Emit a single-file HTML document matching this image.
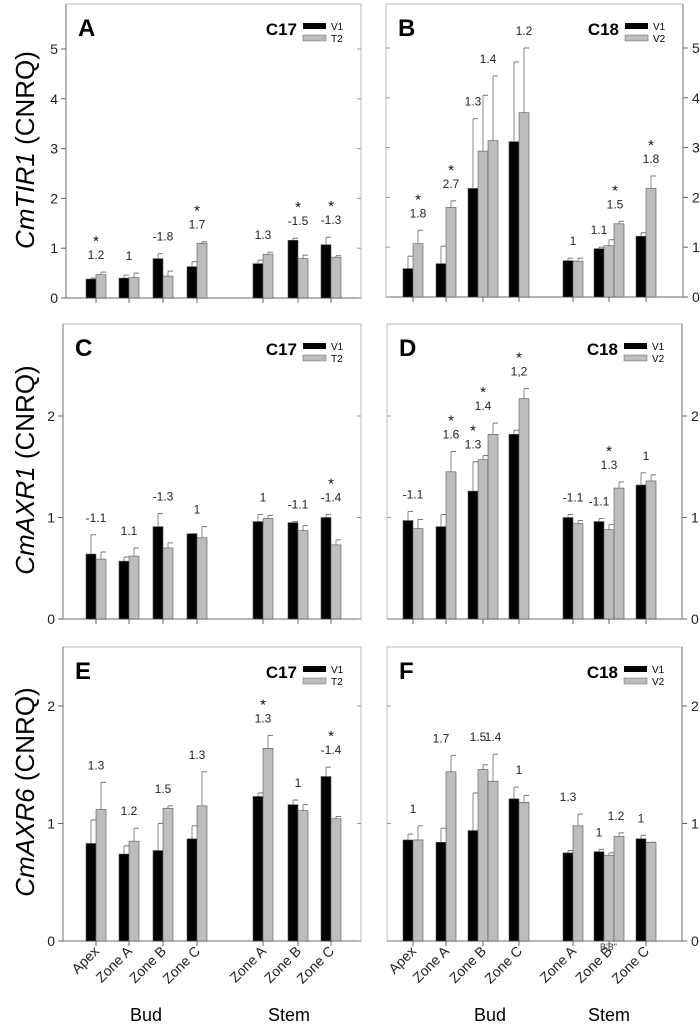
<!DOCTYPE html>
<html><head><meta charset="utf-8"><style>
body{margin:0;background:#fff}
svg{display:block;font-family:"Liberation Sans",sans-serif}
</style></head><body>
<svg id="chart" width="700" height="1027" viewBox="0 0 700 1027" xmlns="http://www.w3.org/2000/svg"></svg>
<script>
const categories=["Apex","Zone A","Zone B","Zone C","Zone A","Zone B","Zone C"];
const tickMax={A:5,B:5,C:2,D:2,E:2,F:2};
// Panel A (C17, CmTIR1)
const aV1=[0.38,0.40,0.79,0.63,0.69,1.16,1.07];
const aV1e=[0.02,0.06,0.10,0.10,0.07,0.04,0.15];
const aT2=[0.47,0.41,0.44,1.10,0.88,0.79,0.82];
const aT2e=[0.05,0.09,0.10,0.03,0.04,0.07,0.03];
const aLab=["1.2","1","-1.8","1.7","1.3","-1.5","-1.3"];
const aStar=[1,0,0,1,0,1,1];
// Panel B (C18, CmTIR1) third bar = extra V2 bar
const bV1=[0.57,0.67,2.18,3.12,0.73,0.97,1.22];
const bV1e=[0.25,0.35,1.40,1.60,0.05,0.03,0.07];
const bV2=[1.07,1.80,2.93,3.70,0.72,1.03,2.18];
const bV2e=[0.27,0.13,1.12,1.30,0.06,0.12,0.25];
const bV3=[null,null,3.14,null,null,1.47,null];
const bV3e=[0,0,1.30,0,0,0.05,0];
// [text, slot, star, anchoredToOwnBar]
const bLab=[["1.8",1,1,0],["2.7",1,1,0],["1.3",0,0,1],["1.4",1.5,0,1],["1.2",1,0,0],["1",0.5,0,0],["1.1",0,0,1],["1.5",1.6,1,1],["1.8",1,1,0]];
const bLabGrp=[0,1,2,2,3,4,5,5,6];
// Panel C
const cV1=[0.64,0.57,0.91,0.84,0.96,0.95,1.00];
const cV1e=[0.19,0.04,0.13,0.00,0.07,0.01,0.03];
const cT2=[0.59,0.62,0.70,0.80,0.99,0.87,0.73];
const cT2e=[0.07,0.08,0.05,0.11,0.03,0.05,0.05];
const cLab=["-1.1","1.1","-1.3","1","1","-1.1","-1.4"];
const cStar=[0,0,0,0,0,0,1];
// Panel D
const dV1=[0.97,0.91,1.26,1.82,1.00,0.96,1.32];
const dV1e=[0.09,0.12,0.29,0.04,0.03,0.03,0.12];
const dV2=[0.89,1.45,1.57,2.17,0.94,0.88,1.36];
const dV2e=[0.09,0.20,0.04,0.10,0.03,0.05,0.06];
const dV3=[null,null,1.82,null,null,1.29,null];
const dV3e=[0,0,0.11,0,0,0.06,0];
const dLab=[["-1.1",0.5,0,0],["1.6",1,1,0],["1.3",0,1,1],["1.4",1,1,0],["1,2",0.5,1,0],["-1.1",0.5,0,0],["-1.1",0,0,1],["1.3",1,1,0],["1",0.5,0,0]];
const dLabGrp=[0,1,2,2,3,4,5,5,6];
// Panel E
const eV1=[0.83,0.74,0.77,0.87,1.23,1.16,1.40];
const eV1e=[0.20,0.07,0.23,0.11,0.03,0.04,0.08];
const eT2=[1.12,0.85,1.13,1.15,1.64,1.11,1.04];
const eT2e=[0.23,0.11,0.02,0.29,0.11,0.05,0.02];
const eLab=["1.3","1.2","1.5","1.3","1.3","1","-1.4"];
const eStar=[0,0,0,0,1,0,1];
// Panel F
const fV1=[0.86,0.84,0.94,1.21,0.75,0.76,0.87];
const fV1e=[0.05,0.12,0.32,0.10,0.02,0.02,0.03];
const fV2=[0.86,1.44,1.46,1.18,0.98,0.73,0.84];
const fV2e=[0.12,0.14,0.04,0.06,0.10,0.02,0.00];
const fV3=[null,null,1.36,null,null,0.89,null];
const fV3e=[0,0,0.23,0,0,0.03,0];
const fLab=[["1",0.5,0,0],["1.7",0,0,0],["1.5",0.5,0,0],["1.4",2,0,0],["1",0.5,0,0],["1.3",0,0,0],["1",0,0,1],["1.2",1.7,0,1],["1",0,0,1]];
const fLabGrp=[0,1,2,2,3,4,5,5,6];

const NS="http://www.w3.org/2000/svg";
const svg=document.getElementById("chart");
function mk(tag,attrs,parent,text){const e=document.createElementNS(NS,tag);for(const k in attrs)e.setAttribute(k,attrs[k]);if(text!==undefined)e.textContent=text;(parent||svg).appendChild(e);return e;}
const leftTicks=[96,129,163,197,263,298,331];
const rightTicks=[413,446,483,519,573,609,646];
const BW=10;
function panel(p){
  const g=mk("g",{});
  
  
  const y=v=>p.base-v*p.unit;
  const fr=mk("rect",{x:p.x0,y:p.top,width:p.x1-p.x0,height:p.base-p.top,fill:"none",stroke:"#bbb","stroke-width":1},g);
  
  
  mk("line",{x1:p.x0,y1:p.base,x2:p.x1,y2:p.base,stroke:"#888","stroke-width":1.2},g);
  const axX=p.right?p.x1:p.x0;
  mk("line",{x1:axX,y1:p.top,x2:axX,y2:p.base,stroke:"#888","stroke-width":1.2},g);
  for(let t=0;t<=tickMax[p.id];t++){
    const ty=y(t);
    if(p.right){
      mk("line",{x1:p.x1,y1:ty,x2:p.x1+5,y2:ty,stroke:"#666"},g);
      mk("line",{x1:p.x0,y1:ty,x2:p.x0+4,y2:ty,stroke:"#999"},g);
      const tl=mk("text",{x:p.x1+9,y:ty+5,"font-size":14,fill:"#222"},g,String(t));
      
      
    }else{
      mk("line",{x1:p.x0-5,y1:ty,x2:p.x0,y2:ty,stroke:"#666"},g);
      mk("line",{x1:p.x1-4,y1:ty,x2:p.x1,y2:ty,stroke:"#999"},g);
      const tl=mk("text",{x:p.x0-8,y:ty+5,"font-size":14,fill:"#222","text-anchor":"end"},g,String(t));
      
      
    }
  }
  const ticks=p.right?rightTicks:leftTicks;
  const groups=[];
  for(let i=0;i<7;i++){
    const cx=ticks[i];
    mk("line",{x1:cx,y1:p.base,x2:cx,y2:p.base+5,stroke:"#666"},g);
    const vals=[[p.v1[i],p.v1e[i],"#000"],[p.v2[i],p.v2e[i],"#bdbdbd"]];
    if(p.v3&&p.v3[i]!==null)vals.push([p.v3[i],p.v3e[i],"#bdbdbd"]);
    const n=vals.length;
    const start=n===2?cx-BW:cx-1.5*BW;
    const tops=[];
    vals.forEach((b,k)=>{
      const bx=start+k*BW;
      const ey=y(b[0]+b[1]);
      mk("line",{x1:bx+BW/2,y1:y(b[0]),x2:bx+BW/2,y2:ey,stroke:"#888"},g);
      mk("line",{x1:bx+BW/2,y1:ey,x2:bx+BW/2+5,y2:ey,stroke:"#777"},g);
      const r=mk("rect",{x:bx,y:y(b[0]),width:BW,height:b[0]*p.unit,fill:b[2],stroke:"#555","stroke-width":0.6},g);
      
      
      tops.push(ey);
    });
    groups.push({tops,start});
  }
  function label(grp,slot,txt,star,own){
    const t=groups[grp];
    let lo=0,hi=t.tops.length-1;
    if(own){lo=Math.max(0,Math.floor(slot));hi=Math.min(t.tops.length-1,Math.ceil(slot));}
    let top=1e9;for(let k=lo;k<=hi;k++)top=Math.min(top,t.tops[k]);
    const lx=t.start+BW/2+slot*BW;
    const ly=top-13;
    const l=mk("text",{x:lx,y:ly,"font-size":12,"text-anchor":"middle",fill:"#222"},g,txt);
    
    
    if(star){
      const s=mk("text",{x:lx,y:ly-13,"font-size":15,"text-anchor":"middle",fill:"#111"},g,"*");
      
      
    }
  }
  if(p.lab){for(let i=0;i<7;i++)label(i,0.5,p.lab[i],p.star[i],0);}
  else{p.labs.forEach((L,j)=>label(p.labGrp[j],L[1],L[0],L[2],L[3]));}
  const pl=mk("text",{x:p.x0+12,y:p.top+32,"font-size":24,"font-weight":"bold"},g,p.id);
  
  
  const lx=p.x1-58;
  const ct=mk("text",{x:lx-6,y:p.top+31,"font-size":17,"font-weight":"bold","text-anchor":"end"},g,p.cult);
  
  
  mk("rect",{x:lx,y:p.top+19,width:23,height:6,fill:"#000"},g);
  mk("rect",{x:lx,y:p.top+31,width:23,height:6,fill:"#bdbdbd",stroke:"#666","stroke-width":0.5},g);
  const l1=mk("text",{x:lx+28,y:p.top+26,"font-size":10},g,"V1");
  
  
  const l2=mk("text",{x:lx+28,y:p.top+38,"font-size":10},g,p.s2);
  
  
}
panel({id:"A",x0:66,x1:361,top:4,base:298,unit:49.8,v1:aV1,v1e:aV1e,v2:aT2,v2e:aT2e,lab:aLab,star:aStar,cult:"C17",s2:"T2"});
panel({id:"B",x0:386,x1:683,top:4,base:297,unit:49.8,right:1,v1:bV1,v1e:bV1e,v2:bV2,v2e:bV2e,v3:bV3,v3e:bV3e,labs:bLab,labGrp:bLabGrp,cult:"C18",s2:"V2"});
panel({id:"C",x0:63,x1:361,top:324,base:619,unit:101.5,v1:cV1,v1e:cV1e,v2:cT2,v2e:cT2e,lab:cLab,star:cStar,cult:"C17",s2:"T2"});
panel({id:"D",x0:387,x1:682,top:324,base:619,unit:101.5,right:1,v1:dV1,v1e:dV1e,v2:dV2,v2e:dV2e,v3:dV3,v3e:dV3e,labs:dLab,labGrp:dLabGrp,cult:"C18",s2:"V2"});
panel({id:"E",x0:63,x1:361,top:647,base:941,unit:117.5,v1:eV1,v1e:eV1e,v2:eT2,v2e:eT2e,lab:eLab,star:eStar,cult:"C17",s2:"T2"});
panel({id:"F",x0:387,x1:682,top:647,base:941,unit:117.5,right:1,v1:fV1,v1e:fV1e,v2:fV2,v2e:fV2e,v3:fV3,v3e:fV3e,labs:fLab,labGrp:fLabGrp,cult:"C18",s2:"V2"});
[leftTicks,rightTicks].forEach(ts=>{ts.forEach((tx,i)=>{
  const t=mk("text",{x:tx+4,y:952,"font-size":14,"text-anchor":"end",fill:"#222",transform:`rotate(-45 ${tx+4} 952)`},svg,categories[i]);
  
  
});});
const bb=mk("text",{x:600,y:950,"font-size":9,fill:"#333"},svg,"B'B\"");


[["Bud",146],["Stem",289],["Bud",490],["Stem",609]].forEach(a=>{
  const t=mk("text",{x:a[1],y:1021,"font-size":18,"text-anchor":"middle"},svg,a[0]);
  
  
});
[["CmTIR1",150],["CmAXR1",470],["CmAXR6",792]].forEach(a=>{
  const t=mk("text",{x:34,y:a[1],"font-size":26,"text-anchor":"middle",transform:`rotate(-90 34 ${a[1]})`},svg);
  
  
  mk("tspan",{"font-style":"italic"},t,a[0]);
  mk("tspan",{},t," (CNRQ)");
});
</script>
</body></html>
